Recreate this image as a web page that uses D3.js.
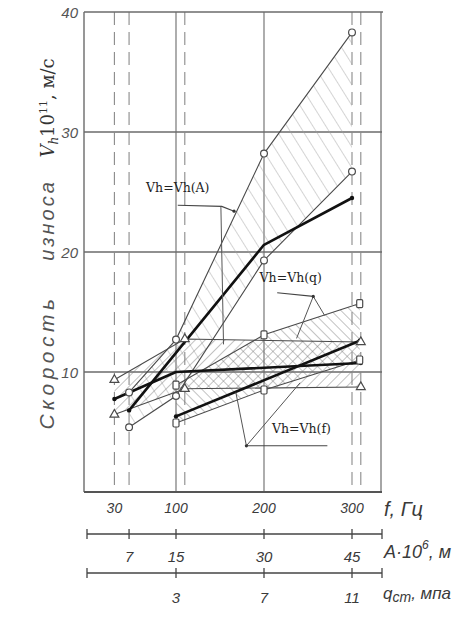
<!DOCTYPE html>
<html><head><meta charset="utf-8">
<script src="https://cdn.jsdelivr.net/npm/d3@7"></script>
<style>
html,body{margin:0;padding:0;background:#fff;}
svg{display:block;}
</style></head>
<body>
<svg id="chart" width="466" height="628"></svg>
<script>
// ---- data ----
const yTicks = [10, 20, 30, 40];
const fTicks = [30, 100, 200, 300];
const aTicks = [7, 15, 30, 45];
const qTicks = [3, 7, 11];
const solidGridF = [100, 200];
const dashedGridF = [30, 110, 310];
const dashedGridA = [7, 45];

// Vh = Vh(A): amplitude A·10^6 m
const ampUpper = [[7, 8.3], [15, 12.7], [30, 28.2], [45, 38.3]];
const ampLower = [[7, 5.4], [15, 8.0], [30, 19.3], [45, 26.7]];
const ampMean  = [[7, 6.8], [30, 20.6], [45, 24.5]];
// Vh = Vh(q): pressure q, MPa
const presUpper = [[3, 8.9], [7, 13.1], [11.35, 15.7]];
const presLower = [[3, 5.75], [7, 8.5], [11.35, 11.0]];
const presMean  = [[3, 6.3], [11.35, 12.6]];
// Vh = Vh(f): frequency f, Hz
const freqUpper = [[30, 9.35], [110, 12.75], [310, 12.5]];
const freqLower = [[30, 6.45], [110, 8.6], [310, 8.75]];
const freqMean  = [[30, 7.75], [100, 10.0], [310, 10.75]];

// annotation anchors in (f, Vh) units
const labelA = {text: "Vh=Vh(A)", at: [66, 25.0], leader: [[102, 23.9], [152, 23.8], [166, 23.4]], drop: [[151, 23.8], [154, 12.3]]};
const labelQ = {text: "Vh=Vh(q)", at: [195, 17.5], leader: [[215, 16.6], [256, 16.3]], fan: [[[256, 16.3], [237, 12.8]], [[256, 16.3], [269, 14.7]]]};
const labelF = {text: "Vh=Vh(f)", at: [209, 4.9], leader: [[272, 3.85], [180, 3.85]], fan: [[[180, 3.85], [168, 8.3]], [[180, 3.85], [241, 9.1]]]};

// ---- layout ----
const svg = d3.select("#chart");
const frameL = 84, frameR = 381;
const y  = d3.scaleLinear().domain([0, 40]).range([492, 12]);
const xf = d3.scaleLinear().domain([0, 300]).range([88, 352]);
const xA = d3.scaleLinear().domain([0, 45]).range([88, 352]);
const xq = d3.scaleLinear().domain([3, 11]).range([176, 352]);

const gridCol = "#6b6b6b", inkCol = "#4a4a4a", textCol = "#3a3a3a";

// patterns
const defs = svg.append("defs");
function hatch(id, angle, gap, col, w) {
  const p = defs.append("pattern").attr("id", id).attr("patternUnits", "userSpaceOnUse")
    .attr("width", gap).attr("height", gap).attr("patternTransform", `rotate(${angle})`);
  p.append("line").attr("x1", 0).attr("y1", 0).attr("x2", 0).attr("y2", gap)
    .attr("stroke", col).attr("stroke-width", w);
}
hatch("hA", -32, 11, "#a0a0a0", 0.9);
hatch("hQ", -45, 7, "#777", 0.9);
hatch("hF", 45, 7, "#777", 0.9);

// grid
const g = svg.append("g");
g.selectAll(".hg").data(yTicks.filter(d => d < 40)).join("line")
  .attr("x1", frameL).attr("x2", frameR + 1).attr("y1", d => y(d)).attr("y2", d => y(d))
  .attr("stroke", gridCol).attr("stroke-width", 1.3);
g.selectAll(".vs").data(solidGridF).join("line")
  .attr("x1", d => xf(d)).attr("x2", d => xf(d)).attr("y1", y(40)).attr("y2", y(0))
  .attr("stroke", gridCol).attr("stroke-width", 1.1);
const dashX = dashedGridF.map(d => xf(d)).concat(dashedGridA.map(d => xA(d)));
g.selectAll(".vd").data(dashX).join("line")
  .attr("x1", d => d).attr("x2", d => d).attr("y1", y(40)).attr("y2", y(0))
  .attr("stroke", "#8a8a8a").attr("stroke-width", 1.1).attr("stroke-dasharray", "13,7");
// frame
g.append("line").attr("x1", frameL).attr("x2", frameR + 2).attr("y1", y(40)).attr("y2", y(40)).attr("stroke", gridCol).attr("stroke-width", 1.4);
g.append("line").attr("x1", frameL).attr("x2", frameL).attr("y1", y(40)).attr("y2", y(0)).attr("stroke", gridCol).attr("stroke-width", 1.4);
g.append("line").attr("x1", frameR).attr("x2", frameR).attr("y1", y(40)).attr("y2", y(0)).attr("stroke", gridCol).attr("stroke-width", 1.2);
g.append("line").attr("x1", frameL).attr("x2", frameR + 1).attr("y1", y(0)).attr("y2", y(0)).attr("stroke", "#555").attr("stroke-width", 2);

// bands
const line = d3.line();
function band(upper, lower, sx, fillId) {
  const pts = upper.map(d => [sx(d[0]), y(d[1])]).concat(lower.slice().reverse().map(d => [sx(d[0]), y(d[1])]));
  svg.append("path").attr("d", line(pts) + "Z").attr("fill", `url(#${fillId})`).attr("stroke", "none");
}
band(ampUpper, ampLower, xA, "hA");
band(presUpper, presLower, xq, "hQ");
band(freqUpper, freqLower, xf, "hF");

function thin(data, sx) {
  svg.append("path").attr("d", line(data.map(d => [sx(d[0]), y(d[1])])))
    .attr("fill", "none").attr("stroke", inkCol).attr("stroke-width", 1.1);
}
function thick(data, sx) {
  svg.append("path").attr("d", line(data.map(d => [sx(d[0]), y(d[1])])))
    .attr("fill", "none").attr("stroke", "#111").attr("stroke-width", 2.6).attr("stroke-linejoin", "round");
  svg.selectAll(null).data([data[0], data[data.length - 1]]).join("circle")
    .attr("cx", d => sx(d[0])).attr("cy", d => y(d[1])).attr("r", 2.2).attr("fill", "#111");
}
thin(ampUpper, xA); thin(ampLower, xA);
thin(presUpper, xq); thin(presLower, xq);
thin(freqUpper, xf); thin(freqLower, xf);
thick(ampMean, xA); thick(presMean, xq); thick(freqMean, xf);

// markers
svg.selectAll(null).data(ampUpper.concat(ampLower)).join("circle")
  .attr("cx", d => xA(d[0])).attr("cy", d => y(d[1])).attr("r", 3.4)
  .attr("fill", "#fff").attr("stroke", inkCol).attr("stroke-width", 1.2);
svg.selectAll(null).data(presUpper.concat(presLower)).join("rect")
  .attr("x", d => xq(d[0]) - 3).attr("y", d => y(d[1]) - 4).attr("width", 6).attr("height", 8).attr("rx", 1.2)
  .attr("fill", "#fff").attr("stroke", inkCol).attr("stroke-width", 1.2);
const tri = d3.symbol().type(d3.symbolTriangle).size(34);
svg.selectAll(null).data(freqUpper.concat(freqLower)).join("path")
  .attr("d", tri).attr("transform", d => `translate(${xf(d[0])},${y(d[1])})`)
  .attr("fill", "#fff").attr("stroke", inkCol).attr("stroke-width", 1.2);

// annotations
const pf = d => [xf(d[0]), y(d[1])];
function annot(L) {
  svg.append("text").attr("x", pf(L.at)[0]).attr("y", pf(L.at)[1])
    .attr("font-family", "DejaVu Serif, Liberation Serif, serif").attr("font-size", 12.5)
    .attr("fill", "#222").text(L.text);
  svg.append("path").attr("d", line(L.leader.map(pf))).attr("fill", "none").attr("stroke", "#444").attr("stroke-width", 1.1);
  if (L.drop) svg.append("path").attr("d", line(L.drop.map(pf))).attr("fill", "none").attr("stroke", "#555").attr("stroke-width", 1);
  if (L.fan) L.fan.forEach(s => svg.append("path").attr("d", line(s.map(pf))).attr("fill", "none").attr("stroke", "#555").attr("stroke-width", 1));
  const end = L.fan ? L.fan[0][0] : L.leader[L.leader.length - 1];
  svg.append("circle").attr("cx", pf(end)[0]).attr("cy", pf(end)[1]).attr("r", 1.6).attr("fill", "#333");
}
annot(labelA); annot(labelQ); annot(labelF);

// y tick labels
const hand = "Liberation Sans, DejaVu Sans, sans-serif";
svg.selectAll(null).data(yTicks).join("text")
  .attr("x", 78).attr("y", d => y(d) + 6).attr("text-anchor", "end")
  .attr("font-family", hand).attr("font-style", "italic").attr("font-size", 15)
  .attr("fill", "#555").text(d => d);

// f axis labels
svg.selectAll(null).data(fTicks).join("text")
  .attr("x", d => xf(d)).attr("y", 513).attr("text-anchor", "middle")
  .attr("font-family", hand).attr("font-style", "italic").attr("font-size", 14)
  .attr("fill", textCol).text(d => d);
svg.append("text").attr("x", 384).attr("y", 516).attr("font-family", hand).attr("font-style", "italic")
  .attr("font-size", 20).attr("fill", textCol).text("f, Гц");

// secondary axes
function subAxis(yy, sc, ticks, labY) {
  const a = svg.append("g");
  a.append("line").attr("x1", 87).attr("x2", 382).attr("y1", yy).attr("y2", yy).attr("stroke", "#444").attr("stroke-width", 1.5);
  a.selectAll(null).data([87, 382].concat(ticks.map(sc))).join("line")
    .attr("x1", d => d).attr("x2", d => d).attr("y1", yy - 5).attr("y2", yy + 5)
    .attr("stroke", "#444").attr("stroke-width", 1.3);
  a.selectAll(null).data(ticks).join("text")
    .attr("x", d => sc(d)).attr("y", labY).attr("text-anchor", "middle")
    .attr("font-family", hand).attr("font-style", "italic").attr("font-size", 15)
    .attr("fill", textCol).text(d => d);
}
subAxis(534, xA, aTicks, 562);
subAxis(573, xq, qTicks, 603);

const aLab = svg.append("text").attr("x", 384).attr("y", 558).attr("font-family", hand).attr("font-style", "italic")
  .attr("font-size", 18).attr("fill", textCol);
aLab.append("tspan").text("А·10");
aLab.append("tspan").attr("dy", -9).attr("font-size", 12).text("6");
aLab.append("tspan").attr("dy", 9).text(", м");

const qLab = svg.append("text").attr("x", 383).attr("y", 599).attr("font-family", hand).attr("font-style", "italic")
  .attr("font-size", 17).attr("fill", textCol);
qLab.append("tspan").text("q");
qLab.append("tspan").attr("dy", 3).attr("font-size", 14).text("ст");
qLab.append("tspan").attr("dy", -3).text(", мпа");

// y axis title (rotated)
function vtext(cy, build) {
  const t = svg.append("text").attr("transform", `translate(54,${cy}) rotate(-90)`).attr("text-anchor", "middle");
  build(t);
}
vtext(362, t => t.attr("font-family", hand).attr("font-style", "italic").attr("font-size", 21)
  .attr("letter-spacing", 4.5).attr("fill", "#555").text("Скорость"));
vtext(220, t => t.attr("font-family", hand).attr("font-style", "italic").attr("font-size", 20)
  .attr("letter-spacing", 3).attr("fill", "#555").text("износа"));
vtext(108, t => {
  t.attr("font-family", "DejaVu Serif, Liberation Serif, serif").attr("font-size", 18).attr("fill", "#333");
  t.append("tspan").attr("font-style", "italic").text("V");
  t.append("tspan").attr("font-size", 12).attr("dy", 4).attr("font-style", "italic").text("h");
  t.append("tspan").attr("dy", -4).text("10");
  t.append("tspan").attr("font-size", 11).attr("dy", -7).text("11");
  t.append("tspan").attr("dy", 7).text(", м/с");
});
</script>
</body></html>
